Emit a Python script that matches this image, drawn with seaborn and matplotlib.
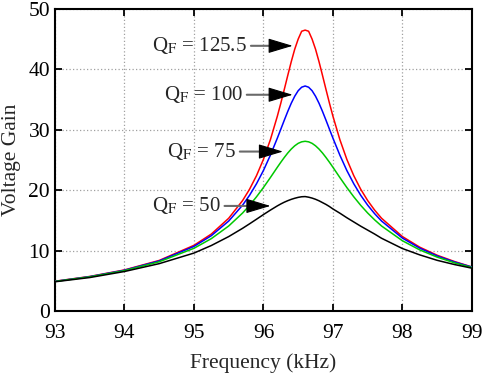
"""Voltage gain vs frequency for several quality factors Q_F.

Outputs: out.png
"""
import numpy as np
import pandas as pd
import matplotlib
matplotlib.use("Agg")
import matplotlib.pyplot as plt
import seaborn as sns

# Frequency points (kHz), denser around the resonance peak
FREQ = [93.0, 93.5, 94.0, 94.5, 95.0, 95.25, 95.5, 95.7, 95.8, 95.9,
        96.0, 96.1, 96.2, 96.25, 96.3, 96.35, 96.4, 96.45, 96.5, 96.55,
        96.6, 96.65, 96.7, 96.75, 96.8, 96.85, 96.9, 96.95, 97.0, 97.1,
        97.2, 97.3, 97.4, 97.5, 97.6, 97.7, 98.0, 98.25, 98.5, 98.75, 99.0]

# Voltage gain, one list per Q_F
GAIN_125 = [4.94, 5.73, 6.81, 8.38, 10.88, 12.75, 15.36, 18.29, 20.16, 22.41,
            25.11, 28.37, 32.25, 34.41, 36.68, 39.00, 41.26, 43.33, 45.01, 46.31,
            46.5, 46.31, 45.01, 43.33, 41.26, 39.00, 36.68, 34.41, 32.25, 28.37,
            25.11, 22.41, 20.16, 18.29, 16.71, 15.36, 12.33, 10.57, 9.24, 8.20, 7.30]
GAIN_100 = [4.92, 5.70, 6.76, 8.30, 10.70, 12.48, 14.90, 17.53, 19.16, 21.07,
            23.27, 25.80, 28.62, 30.10, 31.59, 33.04, 34.39, 35.55, 36.47, 37.05,
            37.25, 37.05, 36.47, 35.55, 34.39, 33.04, 31.59, 30.10, 28.62, 25.80,
            23.27, 21.07, 19.16, 17.53, 16.12, 14.90, 12.08, 10.41, 9.12, 8.12, 7.28]
GAIN_75 = [4.90, 5.66, 6.69, 8.16, 10.39, 11.99, 14.08, 16.23, 17.50, 18.91,
           20.45, 22.10, 23.80, 24.63, 25.42, 26.16, 26.81, 27.35, 27.76, 28.01,
           28.1, 28.01, 27.76, 27.35, 26.81, 26.16, 25.42, 24.63, 23.80, 22.10,
           20.45, 18.91, 17.50, 16.23, 15.10, 14.08, 11.64, 10.12, 8.93, 7.98, 7.21]
GAIN_50 = [4.85, 5.55, 6.55, 7.85, 9.60, 10.85, 12.33, 13.70, 14.44, 15.20,
           15.97, 16.71, 17.41, 17.73, 18.02, 18.27, 18.49, 18.67, 18.82, 18.92,
           18.95, 18.85, 18.70, 18.50, 18.25, 17.95, 17.65, 17.30, 16.90, 16.20,
           15.45, 14.75, 14.05, 13.40, 12.75, 12.05, 10.35, 9.30, 8.40, 7.70, 7.10]

SERIES = ["125.5", "100", "75", "50"]
COLORS = {"125.5": "#ff0000", "100": "#0000ff", "75": "#00c800", "50": "#000000"}

# annotation: label, text anchor (x, y), arrow tip (x, y)
LABELS = [
    ("125.5", (95.76, 43.9), (96.42, 43.9)),
    ("100", (95.70, 35.8), (96.42, 35.8)),
    ("75", (95.60, 26.4), (96.28, 26.4)),
    ("50", (95.38, 17.4), (96.10, 17.4)),
]


def main():
    sns.set_theme(style="ticks")
    plt.rcParams.update({
        "font.family": "Liberation Serif",
        "mathtext.fontset": "stix",
        "font.size": 15.5,
        "axes.linewidth": 1.5,
        "xtick.direction": "in", "ytick.direction": "in",
        "xtick.top": True, "ytick.right": True,
        "xtick.major.size": 5, "ytick.major.size": 5,
        "xtick.major.width": 1.3, "ytick.major.width": 1.3,
        "xtick.major.pad": 9, "ytick.major.pad": 3.5,
    })

    df = pd.concat([
        pd.DataFrame({"Frequency": FREQ, "Gain": g, "Q": q})
        for q, g in zip(SERIES, [GAIN_125, GAIN_100, GAIN_75, GAIN_50])
    ])

    fig = plt.figure(figsize=(4.84, 3.73), dpi=100)
    ax = fig.add_axes([0.1136, 0.166, 0.8614, 0.810])

    sns.lineplot(data=df, x="Frequency", y="Gain", hue="Q",
                 hue_order=SERIES, palette=COLORS, linewidth=1.1,
                 legend=False, ax=ax, zorder=3)

    ax.set_xlim(93, 99)
    ax.set_ylim(0, 50)
    ax.set_xticks(np.arange(93, 100, 1))
    ax.set_yticks(np.arange(0, 51, 10))
    ax.grid(True, linestyle=(0, (1, 1.8)), color="#a0a0a0", linewidth=0.9)
    ax.set_xlabel("Frequency (kHz)", fontsize=15.5, labelpad=8)
    ax.set_ylabel("Voltage Gain", fontsize=15.5)
    ax.yaxis.set_label_coords(-0.082, 0.5)
    ax.tick_params(labelsize=15.5, colors="black")
    for s in ax.spines.values():
        s.set_color("black")

    for q, (tx, ty), (hx, hy) in LABELS:
        # grey shaft, black head
        ax.annotate("", xy=(hx - 0.12, hy), xytext=(tx + 0.06, ty),
                    arrowprops=dict(arrowstyle="-", color="#6a6a6a", lw=1.5,
                                    shrinkA=0, shrinkB=0), zorder=4)
        ax.annotate("", xy=(hx, hy), xytext=(hx - 0.2, hy),
                    arrowprops=dict(arrowstyle="-|>,head_length=1.0,head_width=0.3",
                                    color="black", lw=0.8,
                                    shrinkA=0, shrinkB=0), zorder=4)
        ax.text(tx, ty, "Q$_\\mathrm{F}$ = " + q, ha="right", va="center",
                fontsize=15, zorder=4)

    fig.savefig("out.png", dpi=100)
    plt.close(fig)


if __name__ == "__main__":
    main()
